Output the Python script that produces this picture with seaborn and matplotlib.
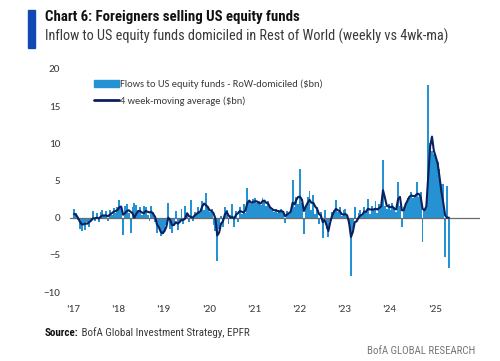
import numpy as np
import pandas as pd
import matplotlib.pyplot as plt
import seaborn as sns
from matplotlib import font_manager
from matplotlib.patches import Patch, Rectangle
from matplotlib.lines import Line2D

# semi-monthly readings, $bn (two per month, Jan..Dec)
flows_2017 = [1.2, 0.6, -0.3, -1.5, -1.8, -0.9, -1.6, -0.6, -1.2, -0.3, 0.9, -0.5,
              0.6, -0.6, 0.8, 1.0, 0.2, 0.9, -0.4, 1.1, 0.4, 1.3, 0.6, 1.5]
flows_2018 = [2.4, 1.5, -2.3, 1.6, 1.8, 0.6, -2.0, 1.4, 2.0, 1.7, 0.8, 1.5,
              0.3, 1.6, 1.5, 0.4, -0.5, 1.6, 0.8, -0.6, -2.0, -1.2, -2.5, -2.2]
flows_2019 = [-1.8, -1.0, 2.0, -1.5, -2.0, -0.8, 0.9, -1.6, -0.5, 1.2, -0.8, 1.6,
              0.4, -0.6, 2.4, -0.5, 0.8, 0.3, 1.4, 0.6, 2.2, 1.0, 3.3, 1.6]
flows_2020 = [0.8, 1.2, -1.0, -1.8, -5.8, -1.5, 0.2, -1.2, 1.5, 1.0, -0.8, 0.4,
              1.8, -1.2, 0.9, -0.6, 1.5, 0.5, 1.8, 0.6, 4.0, 2.2, 1.8, 2.5]
flows_2021 = [2.6, 2.0, 2.2, 1.7, 2.7, 2.1, 1.6, 2.2, 1.4, 1.0, 0.8, 1.2,
              0.6, 1.0, 1.2, 0.7, -0.7, 0.9, 0.5, 1.0, 5.1, 1.5, 2.8, 1.9]
flows_2022 = [6.6, 2.0, -2.2, 1.5, 2.8, 3.6, 1.0, 3.0, 0.5, 1.5, -0.8, 0.8,
              -2.7, 1.0, -1.5, -2.6, -0.5, 0.8, 1.0, 2.4, 0.7, 1.5, 0.2, 1.0]
flows_2023 = [1.2, 0.3, -0.8, -7.8, -1.5, 1.5, -0.5, 0.6, 1.0, 0.2, 1.4, 0.8,
              2.5, 0.5, 1.6, 1.0, 2.2, 0.6, 1.8, 1.4, 7.7, 1.6, 1.2, 1.8]
flows_2024 = [1.0, 2.0, 1.5, 0.8, 4.8, 1.6, -1.3, 1.5, 2.0, 2.6, 2.8, 3.5,
              2.6, 3.0, 4.8, 2.8, 3.4, -3.3, 1.0, 1.4, 17.8, 10.0, 9.0, 8.5]
flows_2025 = [8.0, 7.5, 6.5, 4.5, 4.5, -5.3, 4.3, -6.7]

ma_2017 = [0.5, 0.4, 0.0, -0.5, -0.9, -0.9, -0.8, -0.8, -0.6, -0.4, -0.1, -0.1,
           0.0, -0.1, 0.1, 0.3, 0.3, 0.3, 0.2, 0.4, 0.6, 0.8, 0.9, 1.0]
ma_2018 = [1.4, 1.5, 0.4, 0.6, 0.9, 1.0, 0.8, 0.6, 0.0, 0.5, 0.9, 0.9,
           0.7, 0.6, 0.9, 0.8, 0.7, 0.8, 0.5, 0.1, -0.9, -1.3, -1.9, -2.1]
ma_2019 = [-1.8, -1.2, 0.0, -0.3, -1.0, -1.0, -0.6, -0.8, -0.6, -0.3, -0.3, -0.1,
           0.6, 0.2, 0.1, 0.0, 0.3, 0.5, 0.7, 0.8, 1.5, 1.9, 1.7, 1.4]
ma_2020 = [1.0, 0.9, 0.6, -0.1, -2.4, -2.0, -0.8, -0.5, 0.4, 0.8, 0.3, 0.0,
           0.1, -0.1, 0.4, 0.6, 0.9, 0.8, 0.7, 1.0, 2.0, 2.3, 2.0, 2.1]
ma_2021 = [2.2, 2.2, 2.0, 1.9, 2.2, 2.3, 2.0, 1.9, 1.4, 1.2, 1.0, 1.0,
           0.9, 0.8, 0.9, 0.8, 0.2, 0.4, 0.6, 0.8, 2.0, 1.8, 2.4, 2.8]
ma_2022 = [2.8, 2.4, 0.9, 1.5, 2.0, 2.4, 2.0, 2.0, 1.5, 1.2, 0.5, 0.3,
           -0.6, -0.3, -1.0, -1.8, -0.6, 0.3, 0.8, 1.2, 1.0, 0.9, 0.5, 0.4]
ma_2023 = [0.5, 0.3, -0.7, -2.6, -1.9, -0.6, -0.5, 0.0, 0.3, 0.4, 0.8, 0.8,
           1.2, 1.1, 1.1, 1.1, 1.2, 1.1, 1.3, 1.5, 3.7, 2.7, 1.6, 1.5]
ma_2024 = [1.4, 1.5, 1.2, 1.1, 2.5, 2.8, 1.0, 1.0, 1.8, 2.3, 2.8, 3.0,
           2.9, 2.9, 3.2, 3.2, 2.8, 1.2, 1.0, 1.5, 5.5, 9.5, 10.9, 9.0]
ma_2025 = [8.2, 7.3, 5.5, 3.5, 2.0, 0.3, 0.0, 0.0]

year_ticks = [2017, 2018, 2019, 2020, 2021, 2022, 2023, 2024, 2025]
year_labels = ["'17", "'18", "'19", "'20", "'21", "'22", "'23", "'24", "'25"]
y_ticks = [-10, -5, 0, 5, 10, 15, 20]

flows = (flows_2017 + flows_2018 + flows_2019 + flows_2020 + flows_2021
         + flows_2022 + flows_2023 + flows_2024 + flows_2025)
ma = (ma_2017 + ma_2018 + ma_2019 + ma_2020 + ma_2021
      + ma_2022 + ma_2023 + ma_2024 + ma_2025)

df = pd.DataFrame({'flows': flows, 'ma': ma})
df['t'] = 2017 + np.arange(len(df)) / 24 + 1 / 48

bar_color = '#2592d3'
ma_color = '#0c1f5e'
text_color = '#3a3a3a'


def pick(*families):
    have = {f.name for f in font_manager.fontManager.ttflist}
    for fam in families:
        if fam in have:
            return fam
    return 'DejaVu Sans'


head_font = pick('Roboto Condensed', 'Asap Condensed', 'Archivo Narrow',
                 'Liberation Sans Narrow', 'Liberation Sans')
body_font = pick('Carlito', 'Lato', 'Roboto Condensed', 'Liberation Sans')

sns.set_style('white')
plt.rcParams['font.family'] = [body_font, 'DejaVu Sans']

fig = plt.figure(figsize=(5, 3.61), dpi=100)
ax = fig.add_axes([0.14, 0.191, 0.82, 0.618])

sns.barplot(data=df, x='t', y='flows', native_scale=True, width=1.0,
            color=bar_color, saturation=1, linewidth=0, ax=ax)
ax.axhline(0, color='#6b6b6b', linewidth=0.9, zorder=1)
sns.lineplot(data=df, x='t', y='ma', color=ma_color, linewidth=1.5, ax=ax)

ax.set_xlim(2016.93, 2026.0)
ax.set_ylim(-10, 20)
ax.set_xticks(year_ticks)
ax.set_xticklabels(year_labels)
ax.set_yticks(y_ticks)
ax.tick_params(axis='both', length=0, labelsize=8, colors=text_color)
ax.tick_params(axis='x', pad=9)
ax.tick_params(axis='y', pad=7)
ax.set_xlabel('')
ax.set_ylabel('')
sns.despine(ax=ax, left=True, bottom=True)

handles = [Patch(color=bar_color),
           Line2D([], [], color=ma_color, linewidth=2)]
labels = ['Flows to US equity funds - RoW-domiciled ($bn)',
          '4 week-moving average ($bn)']
ax.legend(handles, labels, loc='upper left', bbox_to_anchor=(0.035, 0.995),
          frameon=False, fontsize=7.5, handlelength=2.4, handletextpad=0.1,
          labelspacing=0.7, labelcolor=text_color)

# header
fig.patches.append(Rectangle((28 / 500, 1 - 48 / 361), 7 / 500, 38 / 361,
                             transform=fig.transFigure, color='#1246b4'))
fig.text(0.09, 0.953, 'Chart 6: Foreigners selling US equity funds',
         family=head_font, fontsize=10.7, fontweight='bold', color='#111111',
         va='center')
fig.text(0.09, 0.898,
         'Inflow to US equity funds domiciled in Rest of World (weekly vs 4wk-ma)',
         family=head_font, fontsize=10.3, color='#3a3a3a', va='center')

# footer
src = fig.text(0.09, 0.078, 'Source:', family=head_font, fontsize=7.9,
               fontweight='bold', color='#111111', va='center')
ax.annotate(' BofA Global Investment Strategy, EPFR', xy=(1, 0.5),
            xycoords=src, va='center', family=head_font, fontsize=7.9,
            color='#3a3a3a', annotation_clip=False)
fig.text(0.95, 0.028, 'BofA GLOBAL RESEARCH', family=head_font, fontsize=7.8,
         color='#777777', ha='right', va='center')

fig.savefig('out.png', dpi=100)
